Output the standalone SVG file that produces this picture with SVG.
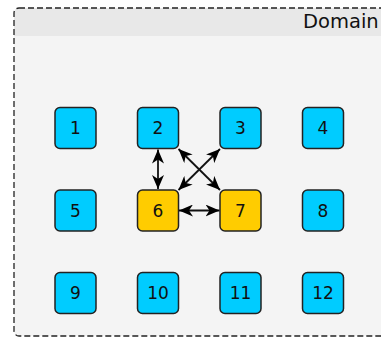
<svg xmlns="http://www.w3.org/2000/svg" width="381" height="338" viewBox="0 0 381 338">
  <defs>
    <marker id="head" viewBox="0 0 14 12" refX="14" refY="6" markerWidth="14" markerHeight="12" markerUnits="userSpaceOnUse" orient="auto-start-reverse">
      <path d="M0,0 L14,6 L0,12 L4,6 Z" fill="#000"/>
    </marker>
  </defs>
  <style>
    .node rect { stroke: #222; stroke-width: 1.5; }
    .blue rect { fill: #00ccff; }
    .gold rect { fill: #ffcc00; }
    .node text { font-family: "DejaVu Sans", sans-serif; font-size: 17px; fill: #111; text-anchor: middle; }
    .edge { stroke: #111; stroke-width: 1.8; fill: none; marker-start: url(#head); marker-end: url(#head); }
  </style>

  <!-- Domain container -->
  <g id="domain">
    <rect x="14" y="8" width="380" height="328" rx="5" fill="#f4f4f4"/>
    <path d="M14,36 V13 a5,5 0 0 1 5,-5 H394 V36 Z" fill="#e8e8e8"/>
    <rect x="14" y="8" width="380" height="328" rx="5" fill="none" stroke="#222" stroke-width="1.3" stroke-dasharray="6,3"/>
    <text x="303" y="28" font-family="DejaVu Sans, sans-serif" font-size="19.5" fill="#111">Domain</text>
  </g>

  <!-- Row 1 -->
  <g id="n1" class="node blue"><rect x="55" y="107.5" width="41" height="41" rx="5"/><text x="75.5" y="134">1</text></g>
  <g id="n2" class="node blue"><rect x="137.5" y="107.5" width="41" height="41" rx="5"/><text x="158" y="134">2</text></g>
  <g id="n3" class="node blue"><rect x="220" y="107.5" width="41" height="41" rx="5"/><text x="240.5" y="134">3</text></g>
  <g id="n4" class="node blue"><rect x="302.5" y="107.5" width="41" height="41" rx="5"/><text x="323" y="134">4</text></g>

  <!-- Row 2 -->
  <g id="n5" class="node blue"><rect x="55" y="190" width="41" height="41" rx="5"/><text x="75.5" y="216.5">5</text></g>
  <g id="n6" class="node gold"><rect x="137.5" y="190" width="41" height="41" rx="5"/><text x="158" y="216.5">6</text></g>
  <g id="n7" class="node gold"><rect x="220" y="190" width="41" height="41" rx="5"/><text x="240.5" y="216.5">7</text></g>
  <g id="n8" class="node blue"><rect x="302.5" y="190" width="41" height="41" rx="5"/><text x="323" y="216.5">8</text></g>

  <!-- Row 3 -->
  <g id="n9" class="node blue"><rect x="55" y="272.5" width="41" height="41" rx="5"/><text x="75.5" y="299">9</text></g>
  <g id="n10" class="node blue"><rect x="137.5" y="272.5" width="41" height="41" rx="5"/><text x="158" y="299">10</text></g>
  <g id="n11" class="node blue"><rect x="220" y="272.5" width="41" height="41" rx="5"/><text x="240.5" y="299">11</text></g>
  <g id="n12" class="node blue"><rect x="302.5" y="272.5" width="41" height="41" rx="5"/><text x="323" y="299">12</text></g>

  <!-- Connectors -->
  <g id="edges">
    <line class="edge" x1="158" y1="149.5" x2="158" y2="189"/>
    <line class="edge" x1="179" y1="210.5" x2="219.5" y2="210.5"/>
    <line class="edge" x1="178.5" y1="149" x2="220" y2="190"/>
    <line class="edge" x1="220" y1="149" x2="178.5" y2="190"/>
  </g>
</svg>
